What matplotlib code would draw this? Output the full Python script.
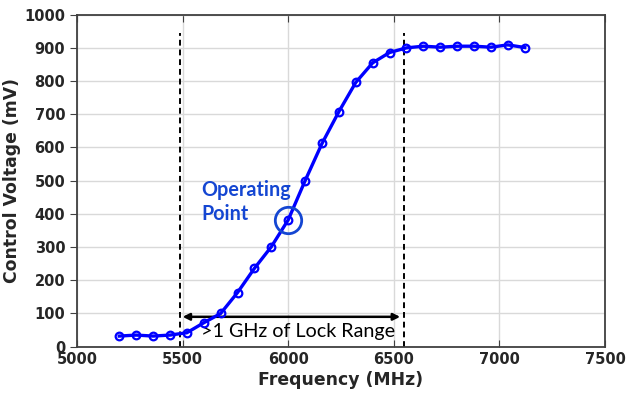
import numpy as np
import matplotlib.pyplot as plt

# measured curve
freq = [5200, 5280, 5360, 5440, 5520, 5600, 5680, 5760, 5840, 5920, 6000,
        6080, 6160, 6240, 6320, 6400, 6480, 6560, 6640, 6720, 6800, 6880,
        6960, 7040, 7120]
vctrl = [32, 35, 32, 35, 42, 72, 100, 163, 236, 301, 382,
         500, 612, 708, 796, 855, 886, 900, 905, 902, 905, 905,
         902, 909, 901]

lock_lo = 5490
lock_hi = 6550
op_freq = 6000
op_volt = 382

xticks = [5000, 5500, 6000, 6500, 7000, 7500]
yticks = list(range(0, 1001, 100))

fig = plt.figure(figsize=(6.26, 3.96), dpi=100)
ax = fig.add_axes([0.123, 0.1245, 0.8435, 0.8385])

ax.plot(freq, vctrl, '-o', color='#0000ff', linewidth=2.4,
        markersize=5.5, markerfacecolor='none', markeredgewidth=1.6, zorder=4)

# lock range markers
ax.plot([lock_lo, lock_lo], [0, 945], '--', color='black', linewidth=1.4, dashes=(3, 2))
ax.plot([lock_hi, lock_hi], [0, 945], '--', color='black', linewidth=1.4, dashes=(3, 2))
ax.annotate('', xy=(6530, 90), xytext=(5500, 90),
            arrowprops=dict(arrowstyle='<|-|>', color='black', lw=1.8,
                            mutation_scale=10, shrinkA=0, shrinkB=0))
ax.text(5587, 29, '>1 GHz of Lock Range', fontsize=14.2, family='Lato',
        color='black', va='baseline', ha='left')

# operating point
ax.plot([op_freq], [op_volt], 'o', markersize=19, markerfacecolor='none',
        markeredgecolor='#1446d2', markeredgewidth=2, zorder=5)
ax.text(5587, 382, 'Operating\nPoint', fontsize=14.2, family='Lato',
        fontweight='bold', color='#1446d2', va='baseline', ha='left',
        linespacing=1.25)

ax.set_xlim(5000, 7500)
ax.set_ylim(0, 1000)
ax.set_xticks(xticks)
ax.set_yticks(yticks)
ax.grid(True, color='#d9d9d9', linewidth=1)
ax.set_axisbelow(True)

for lab in ax.get_xticklabels() + ax.get_yticklabels():
    lab.set_fontweight('bold')
    lab.set_fontsize(10.5)
    lab.set_color('#262626')
ax.tick_params(axis='x', direction='in', length=5, top=True, color='#404040')
ax.tick_params(axis='y', direction='out', length=5, color='#404040')
for s in ax.spines.values():
    s.set_color('#404040')
    s.set_linewidth(1.3)

ax.set_xlabel('Frequency (MHz)', fontsize=12.4, fontweight='bold', color='#262626', labelpad=3)
ax.set_ylabel('Control Voltage (mV)', fontsize=12.4, fontweight='bold', color='#262626', labelpad=2)

fig.savefig('out.png', dpi=100)
